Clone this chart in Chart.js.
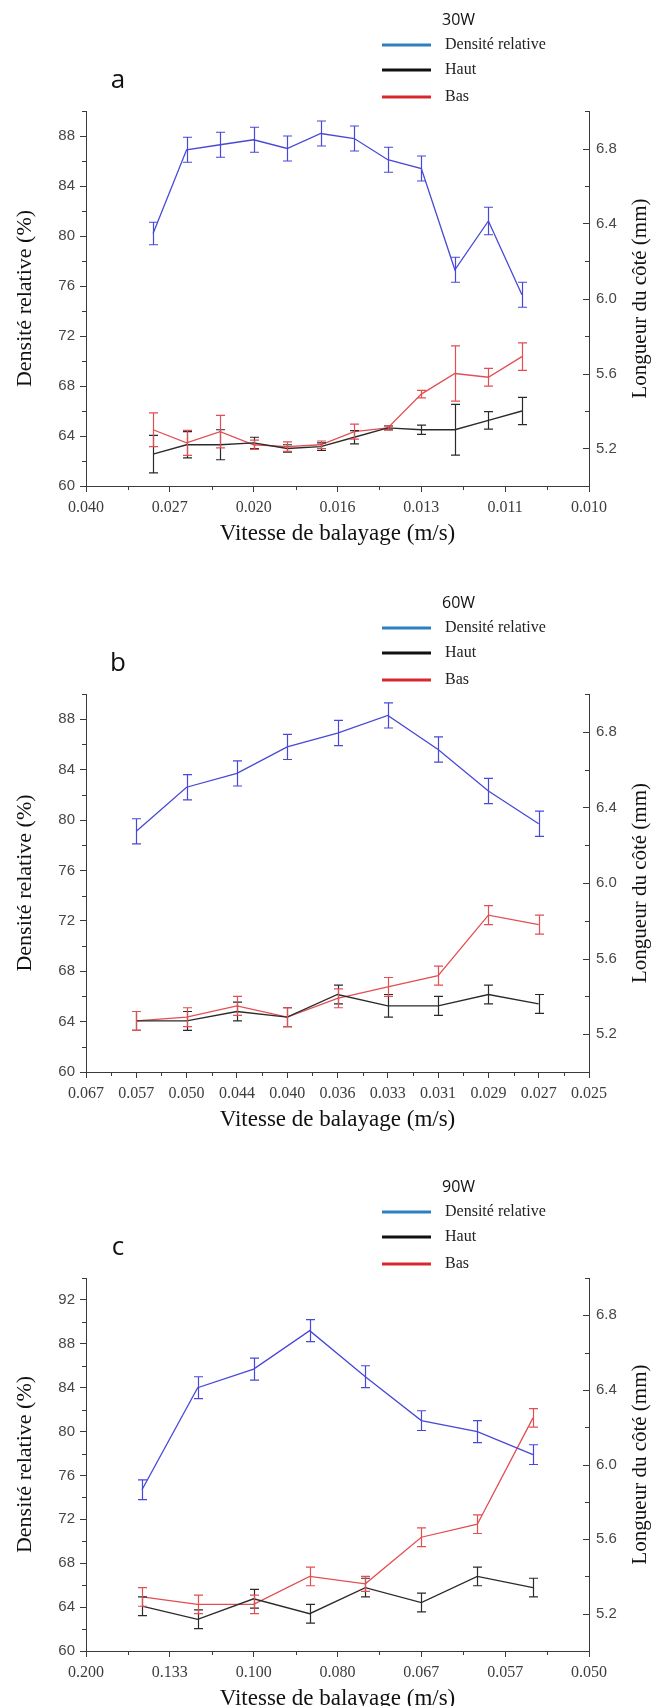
<!DOCTYPE html>
<html>
<head>
<meta charset="utf-8">
<script src="https://cdn.jsdelivr.net/npm/chart.js@4.4.1/dist/chart.umd.min.js"></script>
<style>
  html, body { margin: 0; padding: 0; background: #fff; }
  #wrap { position: relative; width: 656px; height: 1706px; overflow: hidden; }
  canvas { position: absolute; left: 0; }
</style>
</head>
<body>
<div id="wrap">
  <canvas id="chartA" width="656" height="566" style="top:0px"></canvas>
  <canvas id="chartB" width="656" height="566" style="top:566px"></canvas>
  <canvas id="chartC" width="656" height="574" style="top:1132px"></canvas>
</div>
<script>
// x positions are inverse scan speed (s/m); tick labels show the speed (m/s)
const seriesNames = ['Densité relative', 'Haut', 'Bas'];
const rightTicks = [5.2, 5.6, 6.0, 6.4, 6.8];

// 30W
const invSpeedA = [35, 40, 45, 50, 55, 60, 65, 70, 75, 80, 85, 90];
const densA    = [80.2, 86.9, 87.3, 87.7, 87.0, 88.2, 87.8, 86.1, 85.4, 77.3, 81.2, 75.3];
const densErrA = [0.9, 1.0, 1.0, 1.0, 1.0, 1.0, 1.0, 1.0, 1.0, 1.0, 1.1, 1.0];
const hautA    = [5.17, 5.22, 5.22, 5.23, 5.20, 5.21, 5.26, 5.31, 5.30, 5.30, 5.35, 5.40];
const hautErrA = [0.10, 0.07, 0.08, 0.03, 0.02, 0.02, 0.035, 0.01, 0.025, 0.135, 0.047, 0.073];
const basA     = [5.30, 5.23, 5.29, 5.22, 5.21, 5.22, 5.29, 5.31, 5.49, 5.60, 5.58, 5.69];
const basErrA  = [0.09, 0.067, 0.087, 0.025, 0.025, 0.02, 0.04, 0.012, 0.02, 0.147, 0.047, 0.073];
const ticksA = ['0.040', '0.027', '0.020', '0.016', '0.013', '0.011', '0.010'];
const leftTicksA = [60, 64, 68, 72, 76, 80, 84, 88];

// 60W
const invSpeedB = [17.5, 20, 22.5, 25, 27.5, 30, 32.5, 35, 37.5];
const densB    = [79.1, 82.6, 83.7, 85.8, 86.9, 88.3, 85.6, 82.3, 79.7];
const densErrB = [1.0, 1.0, 1.0, 1.0, 1.0, 1.0, 1.0, 1.0, 1.0];
const hautB    = [5.27, 5.27, 5.32, 5.29, 5.41, 5.35, 5.35, 5.41, 5.36];
const hautErrB = [0.05, 0.05, 0.05, 0.05, 0.05, 0.06, 0.05, 0.05, 0.05];
const basB     = [5.27, 5.29, 5.35, 5.29, 5.39, 5.45, 5.51, 5.83, 5.78];
const basErrB  = [0.05, 0.05, 0.05, 0.05, 0.05, 0.05, 0.05, 0.05, 0.05];
const ticksB = ['0.067', '0.057', '0.050', '0.044', '0.040', '0.036', '0.033', '0.031', '0.029', '0.027', '0.025'];
const leftTicksB = [60, 64, 68, 72, 76, 80, 84, 88];

// 90W
const invSpeedC = [6.67, 8.33, 10, 11.67, 13.33, 15, 16.67, 18.33];
const densC    = [74.7, 84.0, 85.7, 89.2, 85.0, 81.0, 80.0, 77.9];
const densErrC = [0.9, 1.0, 1.0, 1.0, 1.0, 0.9, 1.0, 0.9];
const hautC    = [5.24, 5.17, 5.28, 5.20, 5.34, 5.26, 5.40, 5.34];
const hautErrC = [0.05, 0.05, 0.05, 0.05, 0.05, 0.05, 0.05, 0.05];
const basC     = [5.29, 5.25, 5.25, 5.40, 5.36, 5.61, 5.68, 6.25];
const basErrC  = [0.05, 0.05, 0.05, 0.05, 0.04, 0.05, 0.05, 0.05];
const ticksC = ['0.200', '0.133', '0.100', '0.080', '0.067', '0.057', '0.050'];
const leftTicksC = [60, 64, 68, 72, 76, 80, 84, 88, 92];

const lineColors = ['#4848d8', '#2a2a2a', '#e24e52'];
const legendColors = ['#2c7fc0', '#111111', '#d8282e'];
const AXIS = '#3a3a3a';

// error bars, minor ticks, right-axis ticks (inward), titles, legend block
const decor = {
  id: 'decor',
  afterDatasetsDraw(chart) {
    const ctx = chart.ctx;
    ctx.save();
    chart.data.datasets.forEach((ds, di) => {
      const meta = chart.getDatasetMeta(di);
      const xs = chart.scales[meta.xAxisID], ys = chart.scales[meta.yAxisID];
      ctx.strokeStyle = ds.borderColor;
      ctx.lineWidth = 1.2;
      ds.data.forEach((p, i) => {
        const e = ds.errors[i];
        const px = Math.round(xs.getPixelForValue(p.x)) + 0.5;
        const y1 = ys.getPixelForValue(p.y - e), y2 = ys.getPixelForValue(p.y + e);
        ctx.beginPath();
        ctx.moveTo(px, y1); ctx.lineTo(px, y2);
        ctx.moveTo(px - 4.5, y1); ctx.lineTo(px + 4.5, y1);
        ctx.moveTo(px - 4.5, y2); ctx.lineTo(px + 4.5, y2);
        ctx.stroke();
      });
    });
    ctx.restore();
  },
  afterDraw(chart, args, o) {
    const ctx = chart.ctx;
    const area = chart.chartArea;
    ctx.save();
    ctx.strokeStyle = AXIS;
    ctx.lineWidth = 1;
    ['x', 'y', 'y2'].forEach(id => {
      const s = chart.scales[id];
      const vals = s.ticks.map(t => t.value);
      const step = vals[1] - vals[0];
      // right axis majors point into the plot
      if (id === 'y2') {
        vals.forEach(v => {
          const p = Math.round(s.getPixelForValue(v)) + 0.5;
          ctx.beginPath(); ctx.moveTo(area.right, p); ctx.lineTo(area.right - 6, p); ctx.stroke();
        });
      }
      for (let v = vals[0] - step / 2; v <= s.max + 1e-9; v += step) {
        if (v < s.min - 1e-9) continue;
        const p = Math.round(s.getPixelForValue(v)) + 0.5;
        ctx.beginPath();
        if (id === 'x') { ctx.moveTo(p, area.bottom); ctx.lineTo(p, area.bottom + 4); }
        else if (id === 'y') { ctx.moveTo(area.left, p); ctx.lineTo(area.left - 4, p); }
        else { ctx.moveTo(area.right, p); ctx.lineTo(area.right - 4, p); }
        ctx.stroke();
      }
    });
    // axis titles
    ctx.fillStyle = '#111';
    ctx.textAlign = 'center';
    ctx.textBaseline = 'middle';
    ctx.font = '23px "Liberation Serif"';
    ctx.fillText('Vitesse de balayage (m/s)', (area.left + area.right) / 2, area.bottom + 48);
    const midY = (area.top + area.bottom) / 2;
    ctx.save();
    ctx.translate(25, midY);
    ctx.rotate(-Math.PI / 2);
    ctx.font = '22px "Liberation Serif"';
    ctx.fillText('Densité relative (%)', 0, 0);
    ctx.restore();
    ctx.save();
    ctx.translate(640, midY);
    ctx.rotate(-Math.PI / 2);
    ctx.font = '21px "Liberation Serif"';
    ctx.fillText('Longueur du côté (mm)', 0, 0);
    ctx.restore();
    // panel letter
    ctx.font = '26px "Open Sans"';
    ctx.fillText(o.letter, 118, area.top - 30);
    // legend block
    ctx.font = '16px "Open Sans"';
    ctx.textAlign = 'left';
    ctx.fillText(o.power, 442, area.top - 91);
    const rows = [-66, -41, -14];
    ctx.font = '16px "Liberation Serif"';
    seriesNames.forEach((name, i) => {
      const y = area.top + rows[i];
      ctx.strokeStyle = legendColors[i];
      ctx.lineWidth = 3;
      ctx.beginPath();
      ctx.moveTo(382, y); ctx.lineTo(431, y);
      ctx.stroke();
      ctx.fillStyle = '#222';
      ctx.fillText(name, 445, y);
    });
    ctx.restore();
  }
};

function makePanel(id, p) {
  const sets = [
    { vals: p.dens, errs: p.densErr, axis: 'y' },
    { vals: p.haut, errs: p.hautErr, axis: 'y2' },
    { vals: p.bas, errs: p.basErr, axis: 'y2' }
  ];
  const tickFontSans = { family: '"Liberation Sans"', size: 15 };
  return new Chart(document.getElementById(id), {
    type: 'line',
    data: {
      datasets: sets.map((s, i) => ({
        label: seriesNames[i],
        data: p.xs.map((x, j) => ({ x: x, y: s.vals[j] })),
        errors: s.errs,
        yAxisID: s.axis,
        borderColor: lineColors[i],
        borderWidth: 1.3,
        pointRadius: 0,
        tension: 0
      }))
    },
    options: {
      responsive: false,
      animation: false,
      devicePixelRatio: 1,
      layout: { padding: { top: p.top, left: 0, right: 0, bottom: 0 } },
      plugins: {
        legend: { display: false },
        tooltip: { enabled: false },
        decor: { letter: p.letter, power: p.power }
      },
      scales: {
        x: {
          type: 'linear',
          min: p.xMin,
          max: p.xMax,
          afterBuildTicks: s => { s.ticks = p.xLabels.map((_, i) => ({ value: p.xMin + i * p.xStep })); },
          afterFit: s => { s.height = p.bottomH; },
          ticks: {
            autoSkip: false, maxRotation: 0, padding: 6,
            color: '#3c3c3c',
            font: { family: '"Liberation Serif"', size: 16 },
            callback: (v, i) => p.xLabels[i]
          },
          grid: { drawOnChartArea: false, tickLength: 6, color: AXIS },
          border: { color: AXIS, width: 1 }
        },
        y: {
          position: 'left',
          min: 60,
          max: p.yMax,
          afterBuildTicks: s => { s.ticks = p.leftTicks.map(v => ({ value: v })); },
          afterFit: s => { s.width = 86; },
          ticks: { color: '#474747', font: tickFontSans, padding: 5 },
          grid: { drawOnChartArea: false, tickLength: 6, color: AXIS },
          border: { color: AXIS, width: 1 }
        },
        y2: {
          position: 'right',
          min: 5.0,
          max: 7.0,
          afterBuildTicks: s => { s.ticks = rightTicks.map(v => ({ value: v })); },
          afterFit: s => { s.width = 67; },
          ticks: { color: '#474747', font: tickFontSans, padding: 7, callback: v => v.toFixed(1) },
          grid: { drawOnChartArea: false, drawTicks: false, color: AXIS },
          border: { color: AXIS, width: 1 }
        }
      }
    },
    plugins: [decor]
  });
}

makePanel('chartA', {
  xs: invSpeedA, dens: densA, densErr: densErrA, haut: hautA, hautErr: hautErrA, bas: basA, basErr: basErrA,
  xLabels: ticksA, xMin: 25, xMax: 100, xStep: 12.5, leftTicks: leftTicksA, yMax: 90,
  top: 111, bottomH: 80, letter: 'a', power: '30W'
});
makePanel('chartB', {
  xs: invSpeedB, dens: densB, densErr: densErrB, haut: hautB, hautErr: hautErrB, bas: basB, basErr: basErrB,
  xLabels: ticksB, xMin: 15, xMax: 40, xStep: 2.5, leftTicks: leftTicksB, yMax: 90,
  top: 128, bottomH: 60, letter: 'b', power: '60W'
});
makePanel('chartC', {
  xs: invSpeedC, dens: densC, densErr: densErrC, haut: hautC, hautErr: hautErrC, bas: basC, basErr: basErrC,
  xLabels: ticksC, xMin: 5, xMax: 20, xStep: 2.5, leftTicks: leftTicksC, yMax: 94,
  top: 146, bottomH: 55, letter: 'c', power: '90W'
});
</script>
</body>
</html>
